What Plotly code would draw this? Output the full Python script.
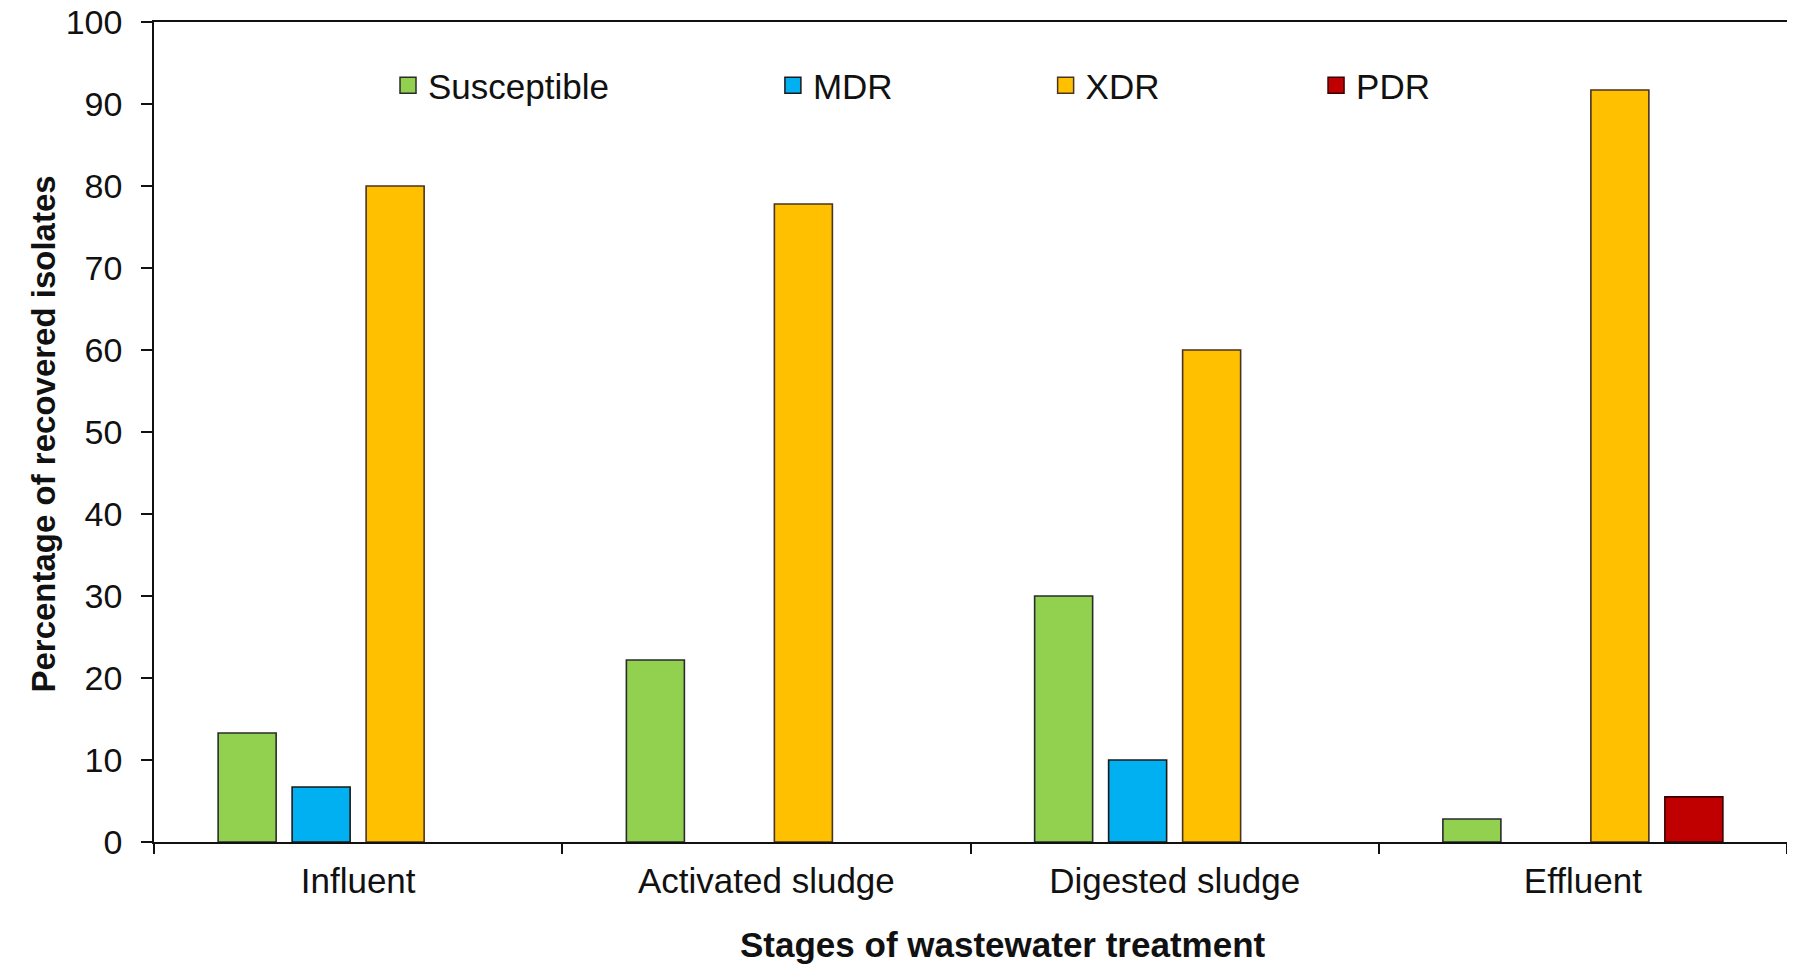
import plotly.graph_objects as go

categories = ["Influent", "Activated sludge", "Digested sludge", "Effluent"]
series_names = ["Susceptible", "MDR", "XDR", "PDR"]
susceptible = [13.3, 22.2, 30.0, 2.8]
mdr = [6.7, None, 10.0, None]
xdr = [80.0, 77.8, 60.0, 91.7]
pdr = [None, None, None, 5.5]
y_ticks = [0, 10, 20, 30, 40, 50, 60, 70, 80, 90, 100]

values = [susceptible, mdr, xdr, pdr]
colors = ["#92D050", "#00B0F0", "#FFC000", "#C00000"]
outlines = ["#2b2b2b", "#1a1a1a", "#4a3320", "#3a0000"]
legend_ids = ["legend", "legend2", "legend3", "legend4"]
legend_x = [0.1433, 0.379, 0.546, 0.7116]

FONT = "Liberation Sans, Arial, sans-serif"

fig = go.Figure()
for name, vals, col, oc, lg in zip(series_names, values, colors, outlines, legend_ids):
    fig.add_trace(go.Bar(
        x=categories, y=vals, name=name, showlegend=False,
        marker=dict(color=col, line=dict(color=oc, width=1.6)),
    ))
    # legend proxy (square swatch)
    fig.add_trace(go.Scatter(
        x=[None], y=[None], mode="markers", name=name, legend=lg,
        marker=dict(symbol="square", size=16, color=col, line=dict(color=oc, width=1.5)),
    ))

layout_legends = {}
for lg, lx in zip(legend_ids, legend_x):
    layout_legends[lg] = dict(
        x=lx, y=0.9226, xanchor="left", yanchor="middle",
        font=dict(family=FONT, size=35, color="#111"),
        bgcolor="rgba(0,0,0,0)", borderwidth=0,
    )

fig.update_layout(
    width=1787, height=957,
    margin=dict(l=146, r=8, t=14, b=123),
    paper_bgcolor="white", plot_bgcolor="white",
    barmode="group", bargap=0.275, bargroupgap=0.216,
    font=dict(family=FONT, size=34, color="#111"),
    **layout_legends,
)

fig.add_annotation(
    text="<b>Percentage of recovered isolates</b>", textangle=-90,
    xref="paper", yref="paper", x=-0.0674, y=0.498,
    xanchor="center", yanchor="middle", showarrow=False,
    font=dict(family=FONT, size=33, color="#111"),
)
fig.add_annotation(
    text="<b>Stages of wastewater treatment</b>",
    xref="paper", yref="paper", x=0.520, y=-0.1250,
    xanchor="center", yanchor="middle", showarrow=False,
    font=dict(family=FONT, size=35, color="#111"),
)

fig.update_yaxes(
    range=[0, 100], tickvals=y_ticks, ticktext=[str(v) for v in y_ticks],
    automargin=False, ticklabeloverflow="allow",
    showgrid=False, zeroline=False,
    showline=True, linecolor="#111", linewidth=1.5, mirror=True,
    ticks="outside", ticklen=11, tickwidth=1.5, tickcolor="#111",
    ticklabelstandoff=12,
    tickfont=dict(family=FONT, size=34, color="#111"),
)
fig.update_xaxes(
    type="category", automargin=False, ticklabeloverflow="allow",
    showgrid=False, zeroline=False,
    showline=True, linecolor="#111", linewidth=1.5, mirror=True,
    ticks="outside", tickson="boundaries", ticklen=10, tickwidth=1.5, tickcolor="#111",
    ticklabelstandoff=7,
    tickfont=dict(family=FONT, size=35, color="#111"),
)

fig.write_html("out.html")
